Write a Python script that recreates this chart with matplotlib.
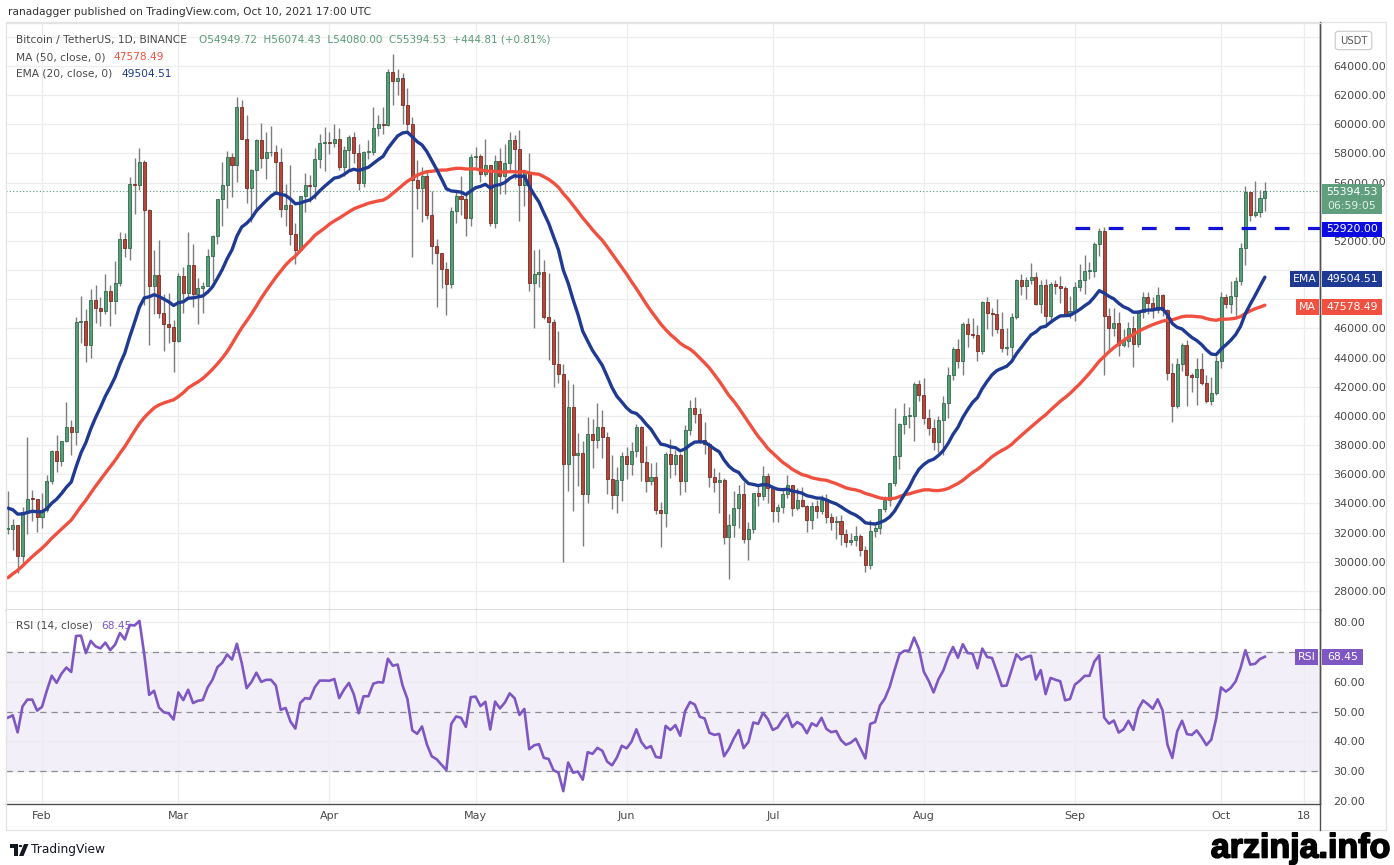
import numpy as np
import matplotlib
matplotlib.use('Agg')
import matplotlib.pyplot as plt
from matplotlib.patches import Rectangle, FancyBboxPatch, Polygon, Circle
from matplotlib.lines import Line2D
import matplotlib.patheffects as pe

# ---------------- DATA (BTC/USDT daily, Binance) ----------------
start_date = '2021-01-25'
end_date = '2021-10-11'   # exclusive

# closes Dec 5 2020 .. Jan 24 2021 (only used to warm up MA/EMA/RSI)
warmup_close = [19155, 19375, 19185, 18322, 18553, 18264, 18058, 18804, 19142, 19274,
                19427, 21380, 22845, 23108, 23857, 23480, 22745, 23824, 23240, 23733,
                24712, 26494, 26281, 27080, 27385, 28875, 28923, 29332, 32178, 33000,
                31989, 33949, 36769, 39432, 40582, 40088, 38150, 35404, 34052, 37371,
                39145, 36742, 35994, 35828, 36631, 35891, 35468, 30850, 32945, 32078,
                32259]

close_jan = [32260, 32510, 30430, 33400, 34300, 34290, 33100]
high_jan = [34875, 32922, 32557, 33783, 38531, 34934, 34288]
low_jan = [31910, 30837, 29241, 29842, 31915, 32825, 32068]

close_feb = [33520, 35510, 37620, 36940, 38290, 39256, 38870, 46450, 46510, 44840,
             47970, 47410, 47230, 48590, 47910, 49130, 52120, 51550, 55910, 55860,
             57410, 54120, 48890, 49680, 47070, 46280, 46110, 45135]
high_feb = [34717, 35984, 37662, 38708, 38310, 40955, 39700, 46794, 48200, 47310,
            48678, 48985, 48150, 49707, 49010, 50620, 52618, 52530, 56368, 57700,
            58352, 57533, 54183, 51374, 52041, 48370, 48424, 46600]
low_feb = [32297, 33418, 35362, 36161, 36570, 38215, 37351, 37988, 45020, 43727,
           43994, 46400, 46202, 47014, 46174, 47003, 48947, 50901, 50710, 53863,
           55477, 47622, 44892, 47003, 46700, 44454, 45000, 43000]

close_mar = [49590, 48440, 50350, 48370, 48760, 48880, 50970, 52375, 54884, 55850,
             57773, 57221, 61188, 58968, 55605, 56900, 58913, 57665, 58075, 58085,
             57411, 54204, 54478, 52508, 51415, 55074, 55864, 55778, 57628, 58730,
             58741]
high_mar = [49790, 50200, 52640, 51773, 49448, 49200, 51450, 52402, 54895, 57387,
            58150, 58058, 61844, 61683, 60633, 56938, 58982, 60076, 59468, 59880,
            58600, 58402, 55880, 57200, 53230, 55073, 56640, 56559, 58405, 59368,
            59800]
low_mar = [45044, 47047, 48100, 47500, 46300, 47070, 48880, 49274, 51789, 53005,
           54269, 55013, 56078, 58963, 54600, 53271, 54123, 57024, 56270, 57820,
           55450, 53650, 53000, 51700, 50427, 51360, 53966, 54680, 54901, 57014,
           56769]

close_apr = [58720, 58981, 57094, 58215, 59124, 58019, 55955, 58083, 58092, 59778,
             59994, 59965, 63575, 62959, 63159, 61334, 60006, 56150, 55633, 56425,
             53787, 51691, 51153, 50110, 49075, 54056, 55071, 54884, 53584, 57750]
high_apr = [59490, 60036, 59752, 58500, 59251, 59475, 58650, 58153, 58894, 61218,
            60658, 61199, 63774, 64854, 63800, 63520, 62506, 60499, 57526, 57076,
            56757, 55460, 52131, 51167, 50591, 54356, 55460, 56428, 55195, 57963]
low_apr = [57935, 58428, 56863, 56478, 56789, 57333, 55473, 55700, 57654, 57875,
           59177, 59369, 59869, 61301, 62020, 60000, 59580, 50931, 54221, 53329,
           53536, 50400, 47500, 48753, 46930, 48753, 53222, 53813, 52330, 53013]

close_may = [57828, 56610, 57213, 53241, 57473, 56429, 57380, 58928, 58280, 55860,
             56753, 49150, 49716, 49880, 46760, 46457, 43537, 42910, 36732, 40626,
             37294, 37450, 34655, 38796, 38324, 39241, 38529, 35663, 34605, 35641,
             37254]
high_may = [58458, 57939, 58981, 57200, 57911, 58360, 58650, 59500, 59300, 59592,
            56862, 58000, 51367, 51438, 50700, 49800, 46643, 45800, 43546, 42451,
            42200, 38829, 38270, 39920, 39791, 40900, 40411, 38877, 37338, 36488,
            37534]
low_may = [57052, 56044, 56435, 53046, 52900, 55200, 55241, 56900, 56235, 53400,
           54370, 48600, 46000, 48868, 46650, 43825, 42001, 42250, 30000, 34850,
           33488, 35200, 31111, 34031, 36419, 37800, 37134, 34684, 33632, 33379,
           34153]

close_jun = [36693, 37568, 39246, 36830, 35520, 35797, 33553, 33380, 37388, 36675,
             37332, 35547, 39020, 40516, 40144, 38349, 38092, 35820, 35484, 35600,
             31676, 32505, 33676, 34663, 31584, 32283, 34700, 34494, 35911, 35045]
high_jun = [37894, 38225, 39476, 39289, 37917, 36790, 36812, 34068, 37534, 38400,
            37680, 37437, 39380, 41064, 41330, 40527, 39559, 38202, 36457, 36137,
            35750, 33298, 34881, 35298, 35500, 32730, 34749, 35297, 36600, 36100]
low_jun = [35666, 35920, 37170, 35555, 34800, 35258, 33300, 31000, 32396, 35779,
           35936, 34600, 34757, 38730, 39506, 38116, 37365, 35129, 34803, 33336,
           31251, 28805, 31683, 32286, 31275, 30151, 32000, 33862, 34231, 34017]

close_jul = [33504, 33786, 34669, 35286, 33690, 34220, 33862, 32875, 33815, 33502,
             34259, 33087, 32729, 32820, 31880, 31384, 31521, 31778, 30839, 29790,
             32144, 32287, 33634, 34258, 35381, 37261, 39457, 39998, 40016, 42206,
             41462]
high_jul = [35036, 33939, 34909, 35967, 35293, 35059, 35100, 33929, 34100, 34262,
            34592, 34678, 33340, 33114, 33185, 32249, 31950, 32435, 31899, 31063,
            32858, 32576, 33650, 34500, 35398, 40550, 39542, 40900, 40640, 42316,
            42448]
low_jul = [32711, 32699, 33330, 34357, 33125, 33532, 33780, 32077, 32261, 33005,
           33306, 32658, 32202, 31550, 31133, 31020, 31165, 31109, 30407, 29278,
           29482, 31708, 31925, 33401, 33851, 35205, 36383, 38772, 39200, 38313,
           41000]

close_aug = [39846, 39147, 38207, 39723, 40862, 42836, 44614, 43792, 46285, 45595,
             45555, 44428, 47793, 47096, 47019, 45937, 44686, 44742, 46763, 49340,
             48905, 49321, 49546, 47707, 48993, 46853, 49069, 48895, 48767, 47024,
             47167]
high_aug = [42599, 40480, 39780, 39969, 41350, 43392, 44700, 45310, 46454, 46700,
            46743, 46218, 47886, 48144, 47372, 48053, 47160, 46000, 47033, 49382,
            49757, 49500, 50500, 49875, 49300, 49365, 49188, 49309, 49633, 48909,
            48246]
low_aug = [39422, 38690, 37642, 37508, 37332, 39853, 42446, 43261, 42779, 44742,
           45341, 43770, 44217, 45971, 45500, 45660, 44376, 44203, 43927, 46646,
           48300, 48050, 49029, 47600, 47080, 46315, 46361, 48372, 47762, 46853,
           46700]

close_sep = [48847, 49327, 49942, 49944, 51786, 52698, 46864, 46048, 46395, 44850,
             45174, 46026, 44941, 47112, 48146, 47754, 47300, 48314, 47250, 42960,
             40694, 43575, 44896, 42840, 42705, 43208, 42236, 41034, 41564, 43790]
high_sep = [49156, 50402, 51054, 50558, 51900, 52920, 52953, 47381, 47400, 47100,
            45987, 46460, 46880, 47250, 48500, 48495, 48167, 48843, 48372, 47337,
            43639, 44000, 44978, 45200, 42966, 43950, 44350, 42787, 42690, 44132]
low_sep = [46512, 48584, 48349, 49400, 49500, 50969, 42843, 44412, 45514, 44132,
           44722, 44742, 43370, 44750, 46719, 47020, 46750, 47044, 46829, 42500,
           39600, 40565, 43069, 40675, 41646, 40750, 42098, 40888, 40753, 41410]

close_oct = [48165, 47657, 48233, 49245, 51493, 55340, 53797, 53963, 54949.72, 55394.53]
high_oct = [48495, 48336, 49228, 49530, 51886, 55750, 55332, 56100, 55489, 56074.43]
low_oct = [43283, 47430, 47088, 46891, 49000, 50382, 53357, 53617, 53661, 54080.00]

# values printed by the chart (legend / price-scale labels)
last_open, last_high, last_low, last_close = 54949.72, 56074.43, 54080.00, 55394.53
last_change, last_change_pct = 444.81, 0.81
ma_label_value = 47578.49
ema_label_value = 49504.51
rsi_label_value = 68.45
countdown = '06:59:05'

resistance_level = 52920.00
resistance_from = '2021-09-01'
month_ticks = ['2021-02-01', '2021-03-01', '2021-04-01', '2021-05-01', '2021-06-01',
               '2021-07-01', '2021-08-01', '2021-09-01', '2021-10-01', '2021-10-18']
month_labels = ['Feb', 'Mar', 'Apr', 'May', 'Jun', 'Jul', 'Aug', 'Sep', 'Oct', '18']
price_ticks = list(range(28000, 66001, 2000))
price_ticks_hidden = [48000, 50000, 54000, 66000]   # covered by the badges
rsi_ticks = [20, 30, 40, 50, 60, 70, 80]
rsi_ticks_hidden = [70]

# ---------------- assemble ----------------
close = np.array(close_jan + close_feb + close_mar + close_apr + close_may + close_jun +
                 close_jul + close_aug + close_sep + close_oct, dtype=float)
high = np.array(high_jan + high_feb + high_mar + high_apr + high_may + high_jun +
                high_jul + high_aug + high_sep + high_oct, dtype=float)
low = np.array(low_jan + low_feb + low_mar + low_apr + low_may + low_jun +
               low_jul + low_aug + low_sep + low_oct, dtype=float)
opn = np.concatenate([[warmup_close[-1]], close[:-1]])
opn[-1] = last_open

dates = np.arange(start_date, end_date, dtype='datetime64[D]')
d0 = dates[0]
x = (dates - d0).astype(int)
n = len(x)

allc = np.concatenate([np.array(warmup_close, float), close])

# indicators (same definitions as the chart: SMA 50, EMA 20, Wilder RSI 14)
ma50 = np.array([allc[i - 49:i + 1].mean() for i in range(49, len(allc))])[-n:]
ema = np.zeros_like(allc)
ema[0] = allc[0]
k = 2 / 21
for i in range(1, len(allc)):
    ema[i] = k * allc[i] + (1 - k) * ema[i - 1]
ema20 = ema[-n:]
diff = np.diff(allc)
gain = np.clip(diff, 0, None)
loss = np.clip(-diff, 0, None)
ag = gain[:14].mean()
al = loss[:14].mean()
rsi_all = [np.nan] * 15
for i in range(14, len(diff)):
    ag = (ag * 13 + gain[i]) / 14
    al = (al * 13 + loss[i]) / 14
    rsi_all.append(100 - 100 / (1 + ag / al))
rsi = np.array(rsi_all)[-n:]

# ---------------- figure ----------------
W, H = 1394, 865
fig = plt.figure(figsize=(W / 100, H / 100), dpi=100)
fig.patch.set_facecolor('white')


def fx(px):
    return px / W


def fy(py):
    return 1 - py / H


TXT = '#4a4a4a'
GRID = '#ededed'
AXC = '#505050'
UP = '#5a9c78'
UPE = '#2f6b4c'
DN = '#b4473c'
DNE = '#7a2a22'
WICK = '#7d7d7d'
MAC = '#f0503f'
EMAC = '#1f3a93'
RSIC = '#7e57c2'

L, R = 6, 1320
ax = fig.add_axes([fx(L), fy(610), fx(R) - fx(L), (610 - 23) / H])
axr = fig.add_axes([fx(L), fy(804), fx(R) - fx(L), (804 - 610) / H], sharex=ax)

# x mapping: Feb 1 at px 42, 4.872 px/day
feb1 = (np.datetime64('2021-02-01') - d0).astype(int)
ppd = 4.872
ax.set_xlim(feb1 - (42 - L) / ppd, feb1 + (R - 42) / ppd)

# y mapping main: 64000 at px 66, 14.583 px per 1000
ppk = 14.583
ax.set_ylim(64000 - (610 - 66) / ppk * 1000, 64000 + (66 - 23) / ppk * 1000)
axr.set_ylim(20 - (804 - 801) / 2.983, 80 + (622 - 610) / 2.983)

tick_x = [(np.datetime64(t) - d0).astype(int) for t in month_ticks]

for a_ in (ax, axr):
    a_.set_facecolor('white')
    a_.set_xticks(tick_x)
    a_.grid(True, color=GRID, lw=0.9, zorder=0)
    a_.set_axisbelow(True)
    a_.yaxis.tick_right()
    a_.tick_params(axis='y', length=0, pad=9.5, labelsize=8, labelcolor=TXT)
    for s in ('left', 'top'):
        a_.spines[s].set_visible(False)
    for s in ('right', 'bottom'):
        a_.spines[s].set_color(AXC)
        a_.spines[s].set_linewidth(1.0)

ax.tick_params(axis='x', length=0, labelbottom=False)
axr.set_xticklabels(month_labels)
axr.tick_params(axis='x', length=0, pad=5, labelsize=8, labelcolor=TXT)

ax.set_yticks(price_ticks)
ax.set_yticklabels(['' if v in price_ticks_hidden else f'{v:.2f}' for v in price_ticks])
axr.set_yticks(rsi_ticks)
axr.set_yticklabels(['' if v in rsi_ticks_hidden else f'{v:.2f}' for v in rsi_ticks])

# candles
up = close >= opn
body_lo = np.minimum(opn, close)
body_h = np.maximum(np.abs(close - opn), 60)
ax.vlines(x, low, high, color=WICK, lw=1.0, zorder=2)
ax.bar(x[up], body_h[up], bottom=body_lo[up], width=0.62, color=UP, edgecolor=UPE,
       linewidth=0.6, zorder=3)
ax.bar(x[~up], body_h[~up], bottom=body_lo[~up], width=0.62, color=DN, edgecolor=DNE,
       linewidth=0.6, zorder=3)

# MA / EMA
ax.plot(x, ma50, color=MAC, lw=2.4, zorder=4, solid_capstyle='round')
ax.plot(x, ema20, color=EMAC, lw=2.4, zorder=5, solid_capstyle='round')

# last price dotted line
ax.axhline(last_close, color=UP, lw=0.8, ls=(0, (1, 2)), zorder=1)

# resistance dashed line
rx0 = (np.datetime64(resistance_from) - d0).astype(int)
ax.plot([rx0, ax.get_xlim()[1]], [resistance_level, resistance_level], color='#1212d8',
        lw=2.3, ls=(0, (4.6, 5.8)), zorder=6)

# RSI panel
axr.axhspan(30, 70, color=RSIC, alpha=0.09, lw=0, zorder=0)
for lv in (30, 50, 70):
    axr.axhline(lv, color='#8c8c98', lw=0.9, ls=(0, (5, 4)), zorder=1)
axr.plot(x, rsi, color=RSIC, lw=1.9, zorder=3)

# frame lines
fig.add_artist(Rectangle((fx(6), fy(830)), fx(1386) - fx(6), (830 - 22) / H,
                         transform=fig.transFigure, fill=False, edgecolor='#e3e3e3', lw=0.9))
fig.add_artist(Line2D([fx(R), fx(R)], [fy(22), fy(830)], transform=fig.transFigure,
                      color=AXC, lw=1.0))
fig.add_artist(Line2D([fx(6), fx(R)], [fy(23), fy(23)], transform=fig.transFigure,
                      color='#e3e3e3', lw=0.9))

# ---------------- texts ----------------
FONT = 'DejaVu Sans'
FS = 7.7
fig.text(fx(8), fy(12), 'ranadagger published on TradingView.com, Oct 10, 2021 17:00 UTC',
         fontsize=FS, color='#333333', va='center', family=FONT)
fig.text(fx(16), fy(40), 'Bitcoin / TetherUS, 1D, BINANCE', fontsize=FS, color=TXT,
         va='center', family=FONT)
fig.text(fx(199), fy(40),
         f'O{last_open:.2f}  H{last_high:.2f}  L{last_low:.2f}  C{last_close:.2f}  '
         f'+{last_change:.2f} (+{last_change_pct:.2f}%)',
         fontsize=FS - 0.2, color=UP, va='center', family=FONT)
fig.text(fx(16), fy(57), 'MA (50, close, 0)', fontsize=FS, color=TXT, va='center', family=FONT)
fig.text(fx(114), fy(57), f'{ma_label_value:.2f}', fontsize=FS, color=MAC, va='center',
         family=FONT)
fig.text(fx(16), fy(74), 'EMA (20, close, 0)', fontsize=FS, color=TXT, va='center', family=FONT)
fig.text(fx(121), fy(74), f'{ema_label_value:.2f}', fontsize=FS, color=EMAC, va='center',
         family=FONT)
fig.text(fx(16), fy(626), 'RSI (14, close)', fontsize=FS, color=TXT, va='center', family=FONT)
fig.text(fx(101), fy(626), f'{rsi_label_value:.2f}', fontsize=FS, color=RSIC, va='center',
         family=FONT)


def badge(x0, y0, x1, y1, color, text, fs=7.8, tcolor='white', z=10):
    fig.add_artist(Rectangle((fx(x0), fy(y1)), fx(x1) - fx(x0), (y1 - y0) / H,
                             transform=fig.transFigure, facecolor=color, edgecolor='none',
                             zorder=z))
    if text:
        fig.text(fx((x0 + x1) / 2), fy((y0 + y1) / 2), text, fontsize=fs, color=tcolor,
                 ha='center', va='center', zorder=z + 1, family=FONT)


badge(1322, 184, 1382, 214, '#5f9f7e', '')
fig.text(fx(1352), fy(192), f'{last_close:.2f}', fontsize=7.8, color='white', ha='center',
         va='center', zorder=11, family=FONT)
fig.text(fx(1352), fy(206), countdown, fontsize=7.8, color='#e4f0e9', ha='center',
         va='center', zorder=11, family=FONT)
badge(1322, 222, 1382, 237, '#0c0ce0', f'{resistance_level:.2f}')
badge(1290, 271, 1319, 287, EMAC, 'EMA')
badge(1322, 271, 1382, 287, EMAC, f'{ema_label_value:.2f}')
badge(1296, 299, 1319, 315, MAC, 'MA')
badge(1322, 299, 1382, 315, MAC, f'{ma_label_value:.2f}')
badge(1295, 649, 1318, 665, RSIC, 'RSI')
badge(1322, 649, 1363, 665, RSIC, f'{rsi_label_value:.2f}')

fig.add_artist(FancyBboxPatch((fx(1338), fy(48)), fx(1369) - fx(1338), 15 / H,
                              boxstyle='round,pad=0.002,rounding_size=0.003',
                              transform=fig.transFigure, facecolor='white',
                              edgecolor='#c8c8c8', lw=0.8, zorder=10))
fig.text(fx(1353.5), fy(40.5), 'USDT', fontsize=7.2, color='#555555', ha='center',
         va='center', zorder=11, family=FONT)

# TradingView logo + text
logo = '#131722'
fig.add_artist(Polygon([(fx(10), fy(844)), (fx(18), fy(844)), (fx(18), fy(856)),
                        (fx(14.5), fy(856)), (fx(14.5), fy(847.5)), (fx(10), fy(847.5))],
                       closed=True, transform=fig.transFigure, facecolor=logo, edgecolor='none'))
fig.add_artist(Circle((fx(20.5), fy(846)), 1.8 / W, transform=fig.transFigure,
                      facecolor=logo, edgecolor='none'))
fig.add_artist(Polygon([(fx(24), fy(844)), (fx(28.5), fy(844)), (fx(23.5), fy(856)),
                        (fx(19), fy(856))], closed=True, transform=fig.transFigure,
                       facecolor=logo, edgecolor='none'))
fig.text(fx(31), fy(850), 'TradingView', fontsize=8.8, color=logo, va='center', family=FONT)

fig.text(fx(1390), fy(849), 'arzinja.info', fontsize=24.5, fontweight='bold', color='black',
         ha='right', va='center', family='Liberation Sans',
         path_effects=[pe.withStroke(linewidth=1.2, foreground='black')])

fig.savefig('out.png', dpi=100, facecolor='white')
